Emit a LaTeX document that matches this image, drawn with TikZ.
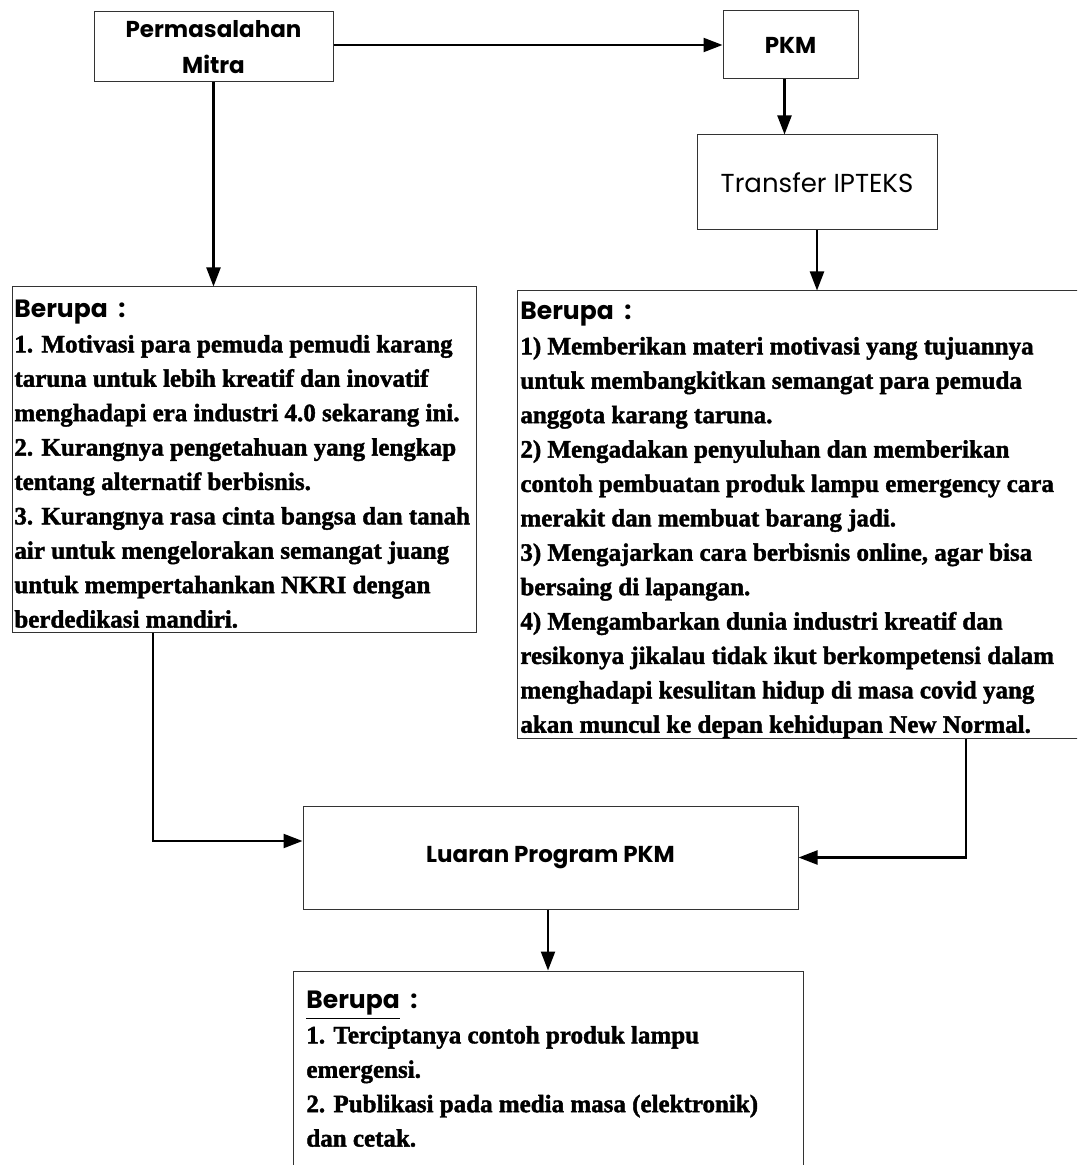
\documentclass[tikz,border=0pt]{standalone}
\usepackage{fontspec}
\setmainfont{Liberation Serif}[BoldFeatures={FakeBold=1.6}]
\newfontfamily\comicfont{Poppins}
\usetikzlibrary{arrows.meta,positioning}

\begin{document}
\begin{tikzpicture}[x=0.5pt,y=-0.5pt,
        box/.style={draw=black!80, line width=0.5pt, inner sep=0pt},
        judul/.style={font=\comicfont\bfseries\fontsize{11.5}{18}\selectfont, align=center},
        isi/.style={font=\bfseries\fontsize{12.5}{17.2}\selectfont, align=left, inner sep=0pt, anchor=north west},
        panah/.style={line width=1.1pt, -{Triangle[length=9.5pt,width=7pt]}}]
                \useasboundingbox (0,0) rectangle (1077,1165);
                \clip (0,0) rectangle (1077,1165);

                \node[box, judul, minimum width=119.5pt, minimum height=35pt] (mitra) at (213.5,47) {Permasalahan\\Mitra};
                \node[box, judul, minimum width=67.5pt, minimum height=34pt] (pkm) at (790.5,45) {PKM};
                \node[box, font=\comicfont\fontsize{13}{16}\selectfont, minimum width=120pt, minimum height=47.5pt] (transfer) at (817,182.5) {Transfer IPTEKS};

                \node[box, minimum width=232pt, minimum height=172.5pt] (masalah) at (244,459.5) {};
                \node[isi] (masalahisi) at (14,300) {{\comicfont Berupa~~:}\\
                    1. Motivasi para pemuda pemudi karang\\
                    taruna untuk lebih kreatif dan inovatif\\
                    menghadapi era industri 4.0 sekarang ini.\\
                    2. Kurangnya pengetahuan yang lengkap\\
                    tentang alternatif berbisnis.\\
                    3. Kurangnya rasa cinta bangsa dan tanah\\
                    air untuk mengelorakan semangat juang\\
                    untuk mempertahankan NKRI dengan\\
                    berdedikasi mandiri.};

                \node[box, minimum width=286.5pt, minimum height=223.5pt] (kegiatan) at (803.5,514.5) {};
                \node[isi] (kegiatanisi) at (520,302) {{\comicfont Berupa~~:}\\
                    1) Memberikan materi motivasi yang tujuannya\\
                    untuk membangkitkan semangat para pemuda\\
                    anggota karang taruna.\\
                    2) Mengadakan penyuluhan dan memberikan\\
                    contoh pembuatan produk lampu emergency cara\\
                    merakit dan membuat barang jadi.\\
                    3) Mengajarkan cara berbisnis online, agar bisa\\
                    bersaing di lapangan.\\
                    4) Mengambarkan dunia industri kreatif dan\\
                    resikonya jikalau tidak ikut berkompetensi dalam\\
                    menghadapi kesulitan hidup di masa covid yang\\
                    akan muncul ke depan kehidupan New Normal.};

                \node[box, judul, minimum width=247.5pt, minimum height=51.5pt] (luaran) at (550.5,857.5) {Luaran Program PKM};

                \node[box, minimum width=255pt, minimum height=114.5pt] (hasil) at (548,1085.5) {};
                \node[isi] (hasilisi) at (306,991) {{\comicfont\underline{Berupa}~~:}\\
                    1. Terciptanya contoh produk lampu\\
                    emergensi.\\
                    2. Publikasi pada media masa (elektronik)\\
                    dan cetak.};

                \draw[panah] (mitra.east |- pkm) -- (pkm);
                \draw[panah] ([xshift=-3pt]pkm.south) -- ([xshift=-3pt]pkm.south |- transfer.north);
                \draw[panah] (transfer) -- (transfer |- kegiatan.north);
                \draw[panah] (mitra) -- (mitra |- masalah.north);
                \draw[panah] ([xshift=-45.5pt]masalah.south) |- ([yshift=8.25pt]luaran.west);
                \draw[panah] ([xshift=81.25pt]kegiatan.south) |- (luaran.east);
                \draw[panah] (luaran.south -| hasil.north) -- (hasil.north);
            \end{tikzpicture}
\end{document}
